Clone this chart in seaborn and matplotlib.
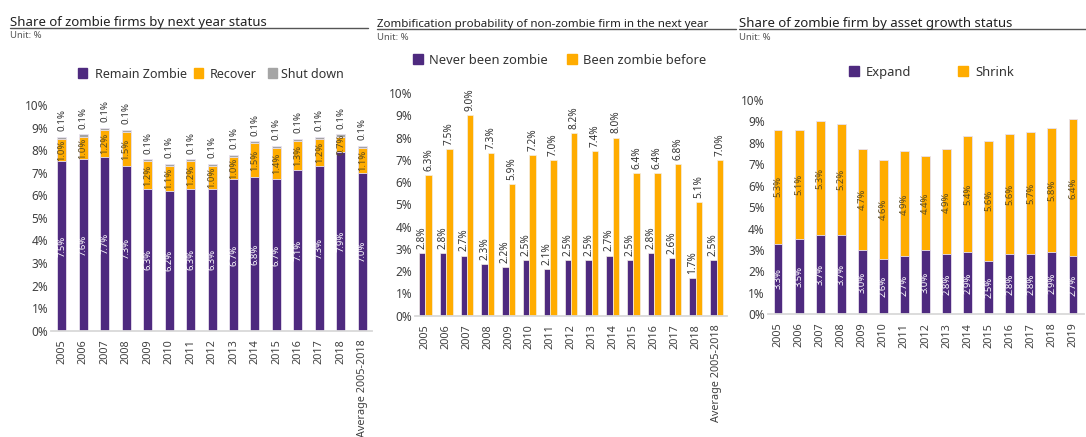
import numpy as np
import pandas as pd
import seaborn as sns
import matplotlib.pyplot as plt
from matplotlib.patches import Rectangle
from matplotlib.lines import Line2D

sns.set_theme(style="white")
plt.rcParams['font.family'] = ['Noto Sans', 'DejaVu Sans']

# ---------------- data ----------------
years_a = ["2005", "2006", "2007", "2008", "2009", "2010", "2011", "2012",
           "2013", "2014", "2015", "2016", "2017", "2018", "Average 2005-2018"]
remain_zombie = [7.5, 7.6, 7.7, 7.3, 6.3, 6.2, 6.3, 6.3, 6.7, 6.8, 6.7, 7.1, 7.3, 7.9, 7.0]
recover = [1.0, 1.0, 1.2, 1.5, 1.2, 1.1, 1.2, 1.0, 1.0, 1.5, 1.4, 1.3, 1.2, 0.7, 1.1]
shut_down = [0.1, 0.1, 0.1, 0.1, 0.1, 0.1, 0.1, 0.1, 0.1, 0.1, 0.1, 0.1, 0.1, 0.1, 0.1]

years_b = years_a
never_zombie = [2.8, 2.8, 2.7, 2.3, 2.2, 2.5, 2.1, 2.5, 2.5, 2.7, 2.5, 2.8, 2.6, 1.7, 2.5]
been_zombie = [6.3, 7.5, 9.0, 7.3, 5.9, 7.2, 7.0, 8.2, 7.4, 8.0, 6.4, 6.4, 6.8, 5.1, 7.0]

years_c = ["2005", "2006", "2007", "2008", "2009", "2010", "2011", "2012",
           "2013", "2014", "2015", "2016", "2017", "2018", "2019"]
expand = [3.3, 3.5, 3.7, 3.7, 3.0, 2.6, 2.7, 3.0, 2.8, 2.9, 2.5, 2.8, 2.8, 2.9, 2.7]
shrink = [5.3, 5.1, 5.3, 5.2, 4.7, 4.6, 4.9, 4.4, 4.9, 5.4, 5.6, 5.6, 5.7, 5.8, 6.4]

y_ticks = [0, 1, 2, 3, 4, 5, 6, 7, 8, 9, 10]

PURPLE = "#4e2a7f"
ORANGE = "#ffac00"
GREY = "#a5a5a5"
TXT = "#404040"

W, H = 1086, 437
fig = plt.figure(figsize=(W / 100, H / 100), dpi=100)


def rect(x0, x1, y_top, y_bot):
    return [x0 / W, 1 - y_bot / H, (x1 - x0) / W, (y_bot - y_top) / H]


def fx(x):
    return x / W


def fy(y):
    return 1 - y / H


def style_axis(ax):
    ax.set_ylim(0, 10)
    ax.set_yticks(y_ticks)
    ax.set_yticklabels([f"{t}%" for t in y_ticks], fontsize=8.5, color=TXT)
    ax.tick_params(axis="x", labelrotation=90, labelsize=7.8, labelcolor=TXT, length=0, pad=6)
    ax.tick_params(axis="y", length=0, pad=2)
    for s in ("left", "top", "right"):
        ax.spines[s].set_visible(False)
    ax.spines["bottom"].set_color("#d9d9d9")
    ax.spines["bottom"].set_linewidth(1.3)
    ax.set_xlabel("")
    ax.set_ylabel("")
    ax.patch.set_alpha(0)


def stacked(ax, cats, layers, colors, width):
    cum = np.cumsum(np.array(layers, dtype=float), axis=0)
    for top, color in reversed(list(zip(cum, colors))):
        sns.barplot(x=cats, y=top, order=cats, color=color, width=width,
                    saturation=1, ax=ax, edgecolor="#e8e2f0", linewidth=0.6)
    return cum


def header(x0, x1, y_base, y_line, title, unit_y, size):
    fig.text(fx(x0), fy(y_base), title, fontsize=size, fontweight="bold",
             color="#222222", va="baseline", ha="left")
    fig.add_artist(Line2D([fx(x0), fx(x1)], [fy(y_line), fy(y_line)],
                          color="#555555", lw=1.0))
    fig.text(fx(x0), fy(unit_y), "Unit: %", fontsize=6.8, color="#555555",
             va="center", ha="left")


def legend_row(entries, y, size=10, fontsize=9.3):
    # entries: (square left x, text left x, colour, label)
    for xs, xt, color, label in entries:
        fig.add_artist(Rectangle((fx(xs), fy(y + size / 2)), size / W, size / H,
                                 transform=fig.transFigure, color=color))
        fig.text(fx(xt), fy(y), label, fontsize=fontsize, color="#333333",
                 va="center_baseline", ha="left")


# ---------------- panel 1 ----------------
ax1 = fig.add_axes(rect(51, 372, 105, 330.7))
cum1 = stacked(ax1, years_a, [remain_zombie, recover, shut_down],
               [PURPLE, ORANGE, GREY], 0.42)
style_axis(ax1)
ax1.set_xlim(-0.5, 14.45)
for i in range(len(years_a)):
    ax1.text(i, remain_zombie[i] / 2, f"{remain_zombie[i]:.1f}%", rotation=90,
             ha="center", va="center", fontsize=6.8, color="white")
    ax1.text(i, cum1[0][i] + recover[i] / 2, f"{recover[i]:.1f}%", rotation=90,
             ha="center", va="center", fontsize=6.8, color="#5a4a20")
    ax1.annotate(f"{shut_down[i]:.1f}%", (i, cum1[2][i]), xytext=(0, 4),
                 textcoords="offset points", rotation=90, ha="center",
                 va="bottom", fontsize=7, color="#333333", annotation_clip=False)

header(10, 368, 26, 27.5, "Share of zombie firms by next year status", 35, 9.5)
legend_row([(78, 95, PURPLE, "Remain Zombie"),
            (194, 210, ORANGE, "Recover"),
            (268, 281, GREY, "Shut down")], 73, size=9, fontsize=9)

# ---------------- panel 2 ----------------
ax2 = fig.add_axes(rect(415, 727, 93, 315.7))
grp_never = "Never been zombie"
grp_been = "Been zombie before"
df2 = pd.DataFrame({
    "year": list(years_b) * 2,
    "value": list(never_zombie) + list(been_zombie),
    "group": [grp_never] * len(years_b) + [grp_been] * len(years_b),
})
sns.barplot(data=df2, x="year", y="value", hue="group", order=years_b,
            hue_order=[grp_never, grp_been], palette=[PURPLE, ORANGE],
            width=0.62, saturation=1, ax=ax2, legend=False,
            edgecolor="#f3eee6", linewidth=0.5)
style_axis(ax2)
ax2.set_xlim(-0.5, 14.5)
for cont in ax2.containers:
    for bar in cont:
        h = bar.get_height()
        ax2.annotate(f"{h:.1f}%", (bar.get_x() + bar.get_width() / 2, h),
                     xytext=(0, 3), textcoords="offset points", rotation=90,
                     ha="center", va="bottom", fontsize=7.3, color="#333333",
                     annotation_clip=False)

header(377, 736, 27, 29, "Zombification probability of non-zombie firm in the next year", 37, 8.3)
legend_row([(413, 429, PURPLE, grp_never),
            (567, 583, ORANGE, grp_been)], 59, size=10)

# ---------------- panel 3 ----------------
ax3 = fig.add_axes(rect(767.5, 1083.5, 100, 314.3))
cum3 = stacked(ax3, years_c, [expand, shrink], [PURPLE, ORANGE], 0.42)
style_axis(ax3)
ax3.set_xlim(-0.5, 14.5)
for i in range(len(years_c)):
    ax3.text(i, expand[i] / 2, f"{expand[i]:.1f}%", rotation=90,
             ha="center", va="center", fontsize=6.8, color="white")
    ax3.text(i, cum3[0][i] + shrink[i] / 2, f"{shrink[i]:.1f}%", rotation=90,
             ha="center", va="center", fontsize=6.8, color="#5a4a20")

header(739, 1086, 26.5, 29, "Share of zombie firm by asset growth status", 37, 9.5)
legend_row([(849, 866, PURPLE, "Expand"),
            (958, 975, ORANGE, "Shrink")], 71, size=10)

fig.savefig("out.png", dpi=100, facecolor="white")
